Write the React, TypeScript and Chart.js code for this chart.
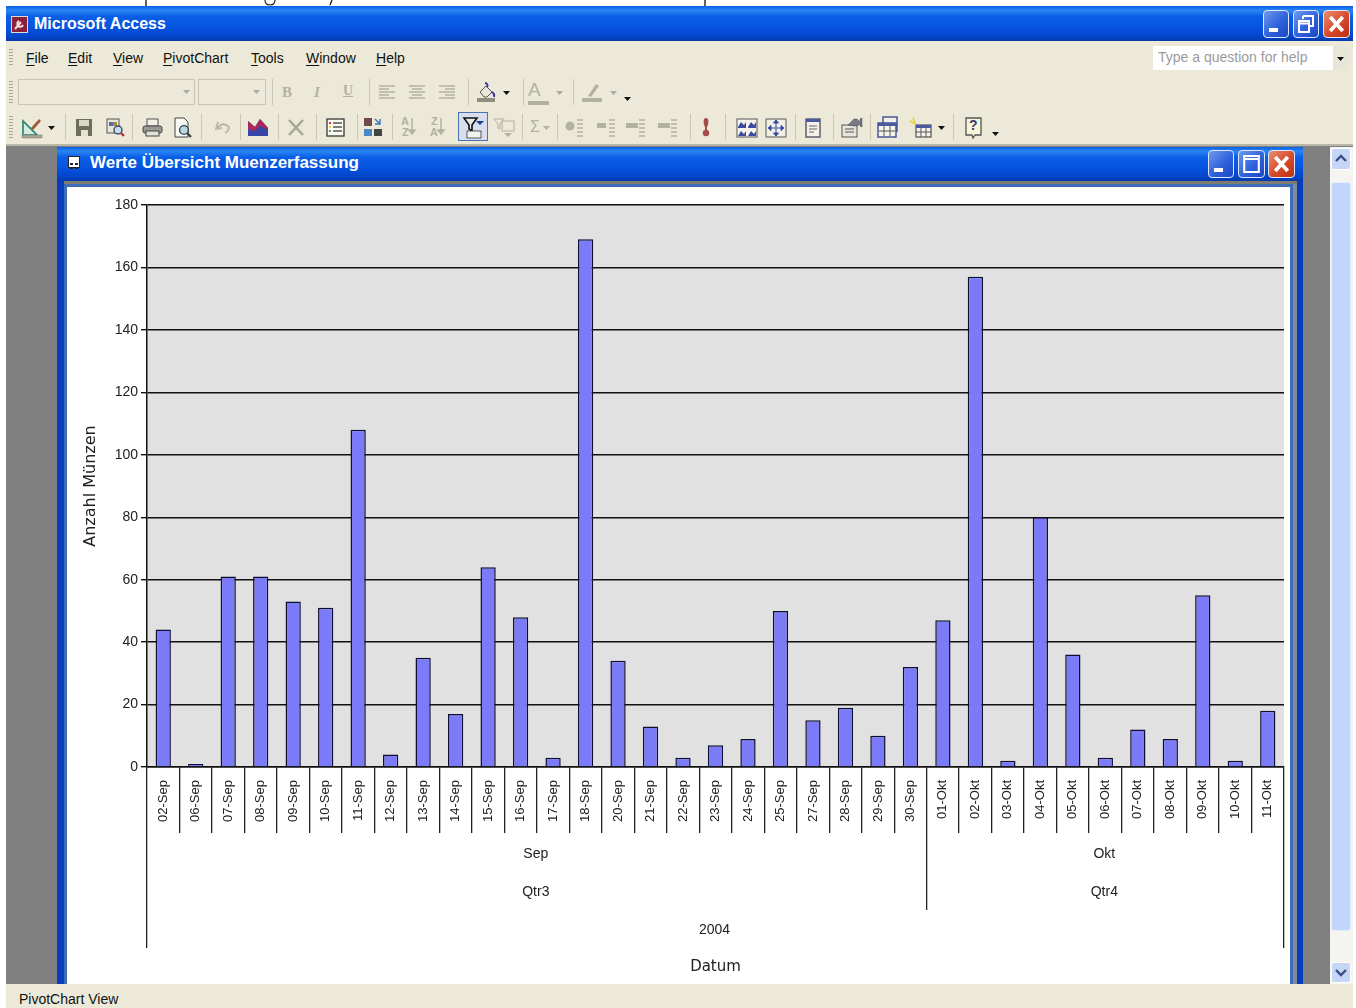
import React, { useEffect, useRef } from "react";
import { Chart, registerables } from "chart.js";

Chart.register(...registerables);

const dateLabels = [
  "02-Sep","06-Sep","07-Sep","08-Sep","09-Sep","10-Sep","11-Sep","12-Sep","13-Sep","14-Sep","15-Sep","16-Sep",
  "17-Sep","18-Sep","20-Sep","21-Sep","22-Sep","23-Sep","24-Sep","25-Sep","27-Sep","28-Sep","29-Sep","30-Sep",
  "01-Okt","02-Okt","03-Okt","04-Okt","05-Okt","06-Okt","07-Okt","08-Okt","09-Okt","10-Okt","11-Okt",
];
const coinCounts = [44,1,61,61,53,51,108,4,35,17,64,48,3,169,34,13,3,7,9,50,15,19,10,32,47,157,2,80,36,3,12,9,55,2,18];
const monthLabels = ["Sep", "Okt"];
const monthSpans = [24, 11];
const quarterLabels = ["Qtr3", "Qtr4"];
const quarterSpans = [24, 11];
const yearLabels = ["2004"];
const yearSpans = [35];
const yAxisTitle = "Anzahl Münzen";
const xAxisTitle = "Datum";
const menuItems: [string, number, number][] = [["File",26,0],["Edit",68,0],["View",113,0],["PivotChart",163,0],["Tools",251,0],["Window",306,0],["Help",376,0]];

const sans = '"Liberation Sans", Arial, sans-serif';

const hierarchyPlugin = {
  id: "hierarchy",
  beforeDraw(chart: any) {
    const { ctx, chartArea: a } = chart;
    ctx.save();
    ctx.fillStyle = "#e1e1e1";
    ctx.fillRect(a.left, a.top, a.right - a.left, a.bottom - a.top);
    ctx.restore();
  },
  afterDraw(chart: any) {
    const { ctx } = chart;
    const x = chart.scales.x;
    const slot = (x.getPixelForTick(1) - x.getPixelForTick(0)) / 2;
    const edge = (i: number) => (i < dateLabels.length ? x.getPixelForTick(i) - slot : x.getPixelForTick(i - 1) + slot);
    const rows: [string[], number[], number, number][] = [
      [yearLabels, yearSpans, 743, 761],
      [quarterLabels, quarterSpans, 705, 723],
      [monthLabels, monthSpans, 667, 723],
    ];
    const lw = 1.3;
    const drawn = new Set<number>();
    ctx.save();
    ctx.font = "14px " + sans;
    ctx.fillStyle = "#222";
    ctx.textAlign = "center";
    ctx.textBaseline = "middle";
    ctx.strokeStyle = "#222";
    ctx.lineWidth = lw;
    rows.forEach(([labels, spans, textY, lineY]) => {
      let start = 0;
      labels.forEach((label, i) => {
        const end = start + spans[i];
        const l = edge(start), r = edge(end);
        ctx.fillText(label, (l + r) / 2 - 1, textY);
        [l, r].forEach((px) => {
          const ax = Math.round(px - lw / 2) + lw / 2;
          if (drawn.has(ax)) return;
          drawn.add(ax);
          ctx.beginPath();
          ctx.moveTo(ax, 646);
          ctx.lineTo(ax, lineY);
          ctx.stroke();
        });
        start = end;
      });
    });
    ctx.restore();
  },
};

const Box = ({ x, y, w, h, s, children }: any) => (
  <div style={{ position: "absolute", left: x, top: y, width: w, height: h, boxSizing: "border-box", ...s }}>{children}</div>
);
const Txt = ({ x, y, size = 14, color = "#111", bold, family, children, u }: any) => (
  <div style={{ position: "absolute", left: x, top: y - size, height: size * 2, lineHeight: size * 2 + "px", fontSize: size, color, fontWeight: bold ? 700 : 400, fontFamily: family || sans, whiteSpace: "nowrap" }}>{children}</div>
);
const Ico = ({ x, y, children }: any) => (
  <svg width={24} height={24} viewBox="0 0 24 24" style={{ position: "absolute", left: x - 12, top: y - 12 }}>{children}</svg>
);
const Sep = ({ x, y }: any) => <Box x={x} y={y} w={1} h={26} s={{ background: "#c9c6b5" }} />;
const Arrow = ({ x, y, c = "#111" }: any) => (
  <svg width={8} height={5} style={{ position: "absolute", left: x - 4, top: y - 2 }}><path d="M0 0H7L3.5 4Z" fill={c} /></svg>
);
const g = "#b3b1a0";
const Lines = ({ kind }: any) => (
  <g stroke={g} strokeWidth={1.5}>
    {[6, 9, 12, 15, 18].map((yy, i) => {
      const short = i % 2 === 1;
      const w = short ? 10 : 16;
      const x1 = kind === 0 ? 4 : kind === 1 ? 4 + (16 - w) / 2 : 20 - w;
      return <path key={yy} d={`M${x1} ${yy}h${w}`} />;
    })}
  </g>
);
const WinBtn = ({ x, y, w, h, kind }: any) => (
  <Box x={x} y={y} w={w} h={h} s={{
    borderRadius: 4, border: "1px solid #dfe8fb",
    background: kind === "close" ? "linear-gradient(135deg,#e8906f,#d8482a 55%,#b93212)" : "linear-gradient(135deg,#6f98ee,#2f62dc 55%,#1c47c2)",
  }}>
    <svg width={w - 2} height={h - 2} viewBox="0 0 24 26" preserveAspectRatio="none" style={{ display: "block" }}>
      {kind === "min" && <rect x="5" y="17" width="9" height="4" fill="#fff" />}
      {kind === "max" && <path d="M5 5h14v16H5ZM5 8h14" fill="none" stroke="#fff" strokeWidth="2" />}
      {kind === "restore" && <path d="M9 5h10v10h-3M9 5v3M5 10h10v11H5ZM5 12.5h10" fill="none" stroke="#fff" strokeWidth="2" />}
      {kind === "close" && <path d="M6 6L18 20M18 6L6 20" stroke="#fff" strokeWidth="3.5" />}
    </svg>
  </Box>
);

function Chrome() {
  const titleBar = "linear-gradient(180deg,#0a5fe4 0%,#2a87f3 12%,#0b5ee6 30%,#0654e0 60%,#0445c9 88%,#033aa8 100%)";
  return (
    <>
      <svg width={800} height={7} style={{ position: "absolute", left: 0, top: 0 }}>
        <path d="M146 0v6M705 0v6M332 0l-2 5" stroke="#222" strokeWidth="1.4" fill="none" />
        <path d="M265 0q0 5 5 5t5-5" stroke="#222" strokeWidth="1.2" fill="none" />
      </svg>
      <Box x={6} y={6} w={1347} h={35} s={{ background: titleBar }} />
      <Box x={11} y={16} w={17} h={17} s={{ background: "#8d2038", border: "1px solid #dcdcdc" }}>
        <svg width={15} height={15}><path d="M3 12L9 5M7 4a3 3 0 1 0 4 4" stroke="#f2dfe2" strokeWidth="2" fill="none" /></svg>
      </Box>
      <Txt x={34} y={24} size={16} bold color="#fff">Microsoft Access</Txt>
      <WinBtn x={1263} y={10} w={26} h={28} kind="min" />
      <WinBtn x={1293} y={10} w={26} h={28} kind="restore" />
      <WinBtn x={1323} y={10} w={27} h={28} kind="close" />

      <Box x={6} y={41} w={1347} h={105} s={{ background: "#ece9d8" }} />
      <Box x={6} y={144} w={1347} h={2} s={{ background: "#b9b7aa" }} />
      {[49, 81, 116].map((yy, i) => (
        <Box key={yy} x={9} y={yy} w={4} h={i === 0 ? 18 : 24} s={{ backgroundImage: "repeating-linear-gradient(180deg,#a8a696 0 1px,transparent 1px 3px)" }} />
      ))}
      {menuItems.map(([t, xx]) => (
        <Txt key={t} x={xx} y={58} size={14}>
          <span style={{ textDecoration: "underline", textDecorationThickness: 1, textUnderlineOffset: 2 }}>{t.charAt(0)}</span>{t.slice(1)}
        </Txt>
      ))}
      <Box x={1153} y={46} w={188} h={24} s={{ background: "#fff" }} />
      <Box x={1333} y={46} w={16} h={24} s={{ background: "#e8e6d6" }} />
      <Txt x={1158} y={57} size={14} color="#9a9a9a">Type a question for help</Txt>
      <Arrow x={1341} y={59} />

      <Box x={18} y={79} w={177} h={26} s={{ border: "1px solid #c8c5b2" }} />
      <Box x={198} y={79} w={68} h={26} s={{ border: "1px solid #c8c5b2" }} />
      <Arrow x={187} y={92} c="#aaa" />
      <Arrow x={257} y={92} c="#aaa" />
      {[272, 369, 468, 523, 573].map((x) => <Sep key={x} x={x} y={79} />)}
      <Txt x={282} y={92} size={15} bold color={g} family='"Liberation Serif", serif'>B</Txt>
      <Txt x={314} y={92} size={15} bold color={g} family='"Liberation Serif", serif'><i>I</i></Txt>
      <Txt x={343} y={91} size={14} bold color={g} family='"Liberation Serif", serif'><u>U</u></Txt>
      <Ico x={387} y={92}><Lines kind={0} /></Ico>
      <Ico x={417} y={92}><Lines kind={1} /></Ico>
      <Ico x={447} y={92}><Lines kind={2} /></Ico>
      <Ico x={486} y={92}>
        <path d="M6 12L12 6l6 6-5 5h-3Z" fill="#e9e7da" stroke="#555" />
        <path d="M11 3a2.5 2.5 0 0 1 2 4M18 12q3 2 2 5" stroke="#3a3aa0" strokeWidth="2" fill="none" />
        <rect x="3" y="18" width="18" height="4" fill="#8f8d7e" />
      </Ico>
      <Arrow x={507} y={93} />
      <Txt x={528} y={90} size={19} color={g}>A</Txt>
      <Box x={528} y={101} w={21} h={4} s={{ background: "#b3b1a0" }} />
      <Arrow x={560} y={93} c="#aaa" />
      <Ico x={592} y={92}>
        <path d="M8 16L16 4l3 2-8 11Z" fill={g} />
        <rect x="2" y="18" width="20" height="4" fill={g} />
      </Ico>
      <Arrow x={614} y={93} c="#aaa" />
      <Arrow x={628} y={99} />

      {[65, 132, 201, 240, 278, 316, 357, 392, 522, 557, 690, 725, 795, 833, 870, 953].map((x) => <Sep key={x} x={x} y={114} />)}
      <Ico x={32} y={127}>
        <path d="M3 20V6l14 14Z" fill="#d8eadf" stroke="#20846f" strokeWidth="1.6" />
        <path d="M11 13l8-9 2 2-8 9Z" fill="#9c5a3a" />
        <rect x="2" y="20" width="20" height="3" fill="#aaa88f" stroke="#777" strokeWidth=".5" />
      </Ico>
      <Arrow x={52} y={128} />
      <Ico x={84} y={127}>
        <rect x="4" y="4" width="16" height="17" fill="#6b6f58" />
        <rect x="7" y="5" width="10" height="6" fill="#d9d8c8" />
        <rect x="9" y="15" width="7" height="6" fill="#e2e1d3" />
      </Ico>
      <Ico x={115} y={127}>
        <rect x="4" y="4" width="12" height="14" fill="#e6e5dc" stroke="#555" />
        <rect x="6" y="7" width="4" height="4" fill="#5a6a9c" /><rect x="10" y="7" width="4" height="4" fill="#a08a40" />
        <circle cx="15" cy="15" r="4" fill="#bfe0e8" stroke="#446" strokeWidth="1.4" />
        <path d="M18 18l3 3" stroke="#b33" strokeWidth="2.4" />
      </Ico>
      <Ico x={152} y={127}>
        <rect x="7" y="4" width="11" height="7" fill="#f2f1e8" stroke="#555" />
        <rect x="3" y="11" width="19" height="7" rx="2" fill="#9a9a94" stroke="#444" />
        <rect x="6" y="16" width="13" height="5" fill="#e3e2d8" stroke="#444" />
      </Ico>
      <Ico x={182} y={127}>
        <path d="M5 3h9l4 4v15H5Z" fill="#fafaf5" stroke="#444" />
        <circle cx="14" cy="15" r="4.4" fill="#bcd8de" stroke="#345" strokeWidth="1.4" />
        <path d="M17 18l4 4" stroke="#444" strokeWidth="2.4" />
      </Ico>
      <Ico x={222} y={127}>
        <path d="M8 7l-2 7 6-1M7 13q6-7 12-1 0 4-4 6" stroke="#b9b7a6" strokeWidth="1.8" fill="none" />
      </Ico>
      <Ico x={258} y={127}>
        <path d="M2 21V6l7 6 5-8 8 9v8Z" fill="#3545a8" />
        <path d="M2 14V6l7 6 5-8 8 9v2l-8-4-5 5Z" fill="#a82a5a" />
      </Ico>
      <Ico x={296} y={127}><path d="M5 5l14 15M19 5L5 20" stroke="#a7a596" strokeWidth="2.5" /></Ico>
      <Ico x={335} y={127}>
        <rect x="4" y="4" width="17" height="17" fill="#fafaf2" stroke="#444" strokeWidth="1.4" />
        <path d="M10 8h9M10 12h9M10 16h9" stroke="#555" strokeWidth="1.5" />
        <path d="M6 8h2" stroke="#d33" strokeWidth="2" /><path d="M6 12h2" stroke="#dd3" strokeWidth="2" /><path d="M6 16h2" stroke="#4a4" strokeWidth="2" />
      </Ico>
      <Ico x={373} y={127}>
        <rect x="3" y="3" width="8" height="8" fill="#6b4a50" /><rect x="3" y="14" width="8" height="7" fill="#4a86c8" />
        <rect x="13" y="14" width="8" height="7" fill="#444" />
        <path d="M14 4l5 5M19 4v5h-5" stroke="#3a7ac0" strokeWidth="1.5" fill="none" />
      </Ico>
      <Txt x={401} y={121} size={11} bold color={g}>A</Txt>
      <Txt x={402} y={132} size={11} bold color={g}>Z</Txt>
      <Ico x={420} y={127}><path d="M4 3v14M1 15l3 4 3-4Z" stroke={g} strokeWidth="1.5" fill={g} /></Ico>
      <Txt x={431} y={121} size={11} bold color={g}>Z</Txt>
      <Txt x={430} y={132} size={11} bold color={g}>A</Txt>
      <Ico x={449} y={127}><path d="M4 3v14M1 15l3 4 3-4Z" stroke={g} strokeWidth="1.5" fill={g} /></Ico>
      <Box x={458} y={112} w={30} h={29} s={{ background: "#d9deee", border: "1px solid #4a70b5" }} />
      <Ico x={473} y={127}>
        <path d="M3 3h13l-5 7v6l-3-2v-4Z" fill="#e8e8e8" stroke="#111" strokeWidth="1.6" />
        <path d="M15 6h8l-4 4Z" fill="#1e3b9c" />
        <rect x="6" y="16" width="14" height="7" fill="#f4f4ee" stroke="#333" strokeWidth=".8" />
      </Ico>
      <Ico x={505} y={127}>
        <path d="M1 4h10l-4 5v5l-2-1V9Z" fill="none" stroke={g} />
        <rect x="9" y="6" width="12" height="10" fill="none" stroke={g} />
        <path d="M11 18h8l-4 4Z" fill={g} />
      </Ico>
      <Txt x={530} y={127} size={16} color={g}>Σ</Txt>
      <Arrow x={547} y={128} c={g} />
      {[574, 606, 636, 668].map((xx, i) => (
        <Ico key={xx} x={xx} y={127}>
          {i === 0 ? <circle cx="8" cy="11" r="4.5" fill={g} /> : <rect x={i === 1 ? 3 : 2} y="8" width={i === 1 ? 9 : 12} height="5" fill={g} />}
          <path d="M15 5h6M15 9h6M15 13h6M15 17h6M15 21h6" stroke={g} strokeWidth="1.3" />
        </Ico>
      ))}
      <Ico x={706} y={127}>
        <path d="M12 3c3 0 3 5 1 9h-2C9 8 9 3 12 3Z" fill="#a84a48" />
        <circle cx="12" cy="18" r="3.2" fill="#a84a48" /><path d="M12 11v5" stroke="#a84a48" strokeWidth="2" />
      </Ico>
      {[747, 776].map((xx, i) => (
        <Ico key={xx} x={xx} y={127}>
          <rect x="2" y="4" width="20" height="18" fill={i ? "#f0f0e6" : "#f4f4ec"} stroke="#555" />
          {i === 0 ? <path d="M3 12l3-5 3 3 2-3v6H3ZM13 12l3-5 3 3 2-3v6h-8ZM3 21l3-5 3 3 2-3v5H3ZM13 21l3-5 3 3 2-3v5h-8Z" fill="#3b4a9e" />
            : <path d="M12 6v14M5 13h14M12 5l-2.5 3h5ZM12 21l-2.5-3h5ZM4 13l3-2.5v5ZM20 13l-3-2.5v5Z" stroke="#3b4a9e" fill="#3b4a9e" />}
        </Ico>
      ))}
      <Ico x={813} y={127}>
        <rect x="5" y="4" width="14" height="18" fill="#f2f2e8" stroke="#556" strokeWidth="1.4" />
        <rect x="5" y="4" width="14" height="3" fill="#4a5aa0" />
        <path d="M8 11h8M8 14h8M8 17h5" stroke="#666" />
      </Ico>
      <Ico x={851} y={127}>
        <rect x="3" y="10" width="15" height="12" fill="#e6e5dc" stroke="#555" />
        <path d="M6 14h9M6 17h9" stroke="#555" />
        <path d="M9 10l6-6h3l3 3v-3l2-1v9l-2-1v-2l-3 2h-3Z" fill="#7a7a80" stroke="#445" strokeWidth=".5" />
      </Ico>
      <Ico x={888} y={127}>
        <rect x="7" y="2" width="14" height="14" fill="#f0f0ea" stroke="#3a4a90" strokeWidth="1.4" />
        <rect x="2" y="8" width="18" height="14" fill="#f4f4ec" stroke="#3a4a90" strokeWidth="1.4" />
        <rect x="2" y="8" width="18" height="3" fill="#4a5aa0" />
        <path d="M8 11v10M14 11v10M3 16h16" stroke="#555" />
      </Ico>
      <Ico x={920} y={127}>
        <path d="M5 2l2 6-5-2 5 3" stroke="#e8d44a" strokeWidth="1.6" fill="none" />
        <rect x="8" y="10" width="15" height="12" fill="#f4f4ec" stroke="#333" />
        <rect x="8" y="10" width="15" height="3" fill="#4a5aa0" />
        <path d="M13 13v9M18 13v9M8 17h15" stroke="#555" />
      </Ico>
      <Arrow x={942} y={128} />
      <Ico x={974} y={127}>
        <path d="M4 3h15v17h-6l-2 3-1-3H4Z" fill="#f7f7d8" stroke="#555" strokeWidth="1.3" />
      </Ico>
      <Txt x={969} y={125} size={14} bold color="#3a3a7a">?</Txt>
      <Arrow x={996} y={134} />

      <Box x={6} y={146} w={1347} h={838} s={{ background: "#808080" }} />
      <Box x={57} y={147} w={1246} h={837} s={{ background: "#0a3cc0" }} />
      <Box x={57} y={147} w={1246} h={34} s={{ background: titleBar }} />
      <Box x={64} y={181} w={1233} h={803} s={{ background: "#3f6cb8" }} />
      <Box x={64} y={181} w={1233} h={3} s={{ background: "#7c7c70" }} />
      <Box x={1293} y={184} w={4} h={800} s={{ background: "#7f8a9a" }} />
      <Box x={68} y={156} w={12} h={12} s={{ background: "#fff", border: "1px solid #223" }}>
        <svg width={10} height={10}><path d="M1 2h3v2H1ZM6 2h3v2H6ZM1 6h3v2H1ZM6 6h3v2H6Z" fill="#223" /></svg>
      </Box>
      <Txt x={90} y={163} size={17} bold color="#fff">Werte Übersicht Muenzerfassung</Txt>
      <WinBtn x={1208} y={150} w={26} h={28} kind="min" />
      <WinBtn x={1238} y={150} w={27} h={28} kind="max" />
      <WinBtn x={1268} y={150} w={27} h={28} kind="close" />

      <Box x={1330} y={147} w={23} h={837} s={{ background: "#f4f4f0" }} />
      <Box x={1331} y={148} w={20} h={22} s={{ background: "#c6d6f7", border: "1px solid #fff", borderRadius: 3 }}>
        <svg width={18} height={20}><path d="M4 12l5-5 5 5" fill="none" stroke="#3a4f88" strokeWidth="2.4" /></svg>
      </Box>
      <Box x={1331} y={182} w={20} h={749} s={{ background: "#c3d5fa", border: "1px solid #e5edfd", borderRadius: 3 }} />
      <Box x={1331} y={962} w={20} h={21} s={{ background: "#c6d6f7", border: "1px solid #fff", borderRadius: 3 }}>
        <svg width={18} height={19}><path d="M4 7l5 5 5-5" fill="none" stroke="#3a4f88" strokeWidth="2.4" /></svg>
      </Box>

      <Box x={6} y={984} w={1347} h={24} s={{ background: "#ece9d8" }} />
      <Txt x={19} y={999} size={14}>PivotChart View</Txt>
    </>
  );
}

export default function App() {
  const ref = useRef<HTMLCanvasElement>(null);
  useEffect(() => {
    const chart = new Chart(ref.current as HTMLCanvasElement, {
      type: "bar",
      data: {
        labels: dateLabels,
        datasets: [{
          data: coinCounts,
          backgroundColor: "#7b7bf7",
          borderColor: "#0e0e30",
          borderWidth: 1.5,
          categoryPercentage: 1,
          barPercentage: 0.47,
        }],
      },
      plugins: [hierarchyPlugin],
      options: {
        animation: false,
        responsive: false,
        layout: { padding: { top: 18, right: 6, left: 0, bottom: 8 } },
        plugins: { legend: { display: false }, tooltip: { enabled: false } },
        scales: {
          x: {
            afterFit: (s: any) => { s.height = 209; },
            offset: true,
            grid: { drawOnChartArea: false, offset: true, tickLength: 66, color: "#222", lineWidth: 1.3 },
            border: { color: "#111", width: 1.5 },
            ticks: { autoSkip: false, minRotation: 90, maxRotation: 90, padding: -53, color: "#222", font: { family: sans, size: 13 } },
            title: { display: true, text: xAxisTitle, color: "#222", font: { family: "DejaVu Sans", size: 15 }, padding: { top: 0, bottom: 0 } },
          },
          y: {
            min: 0,
            max: 180,
            afterFit: (s: any) => { s.width = 80; },
            grid: { color: "#111", lineWidth: 1.4, tickLength: 6 },
            border: { color: "#111", width: 1.5 },
            ticks: { stepSize: 20, padding: 3, color: "#222", font: { family: sans, size: 14 } },
            title: { display: true, text: yAxisTitle, color: "#222", font: { family: "DejaVu Sans", size: 16 }, padding: { top: 14, bottom: 0 } },
          },
        },
      } as any,
    });
    return () => chart.destroy();
  }, []);

  return (
    <div style={{ position: "fixed", left: 0, top: 0, width: 1356, height: 1008, overflow: "hidden", background: "#fff" }}>
      <Chrome />
      <canvas ref={ref} width={1223} height={797} style={{ position: "absolute", left: 67, top: 187, width: 1223, height: 797, background: "#fff" }} />
    </div>
  );
}
